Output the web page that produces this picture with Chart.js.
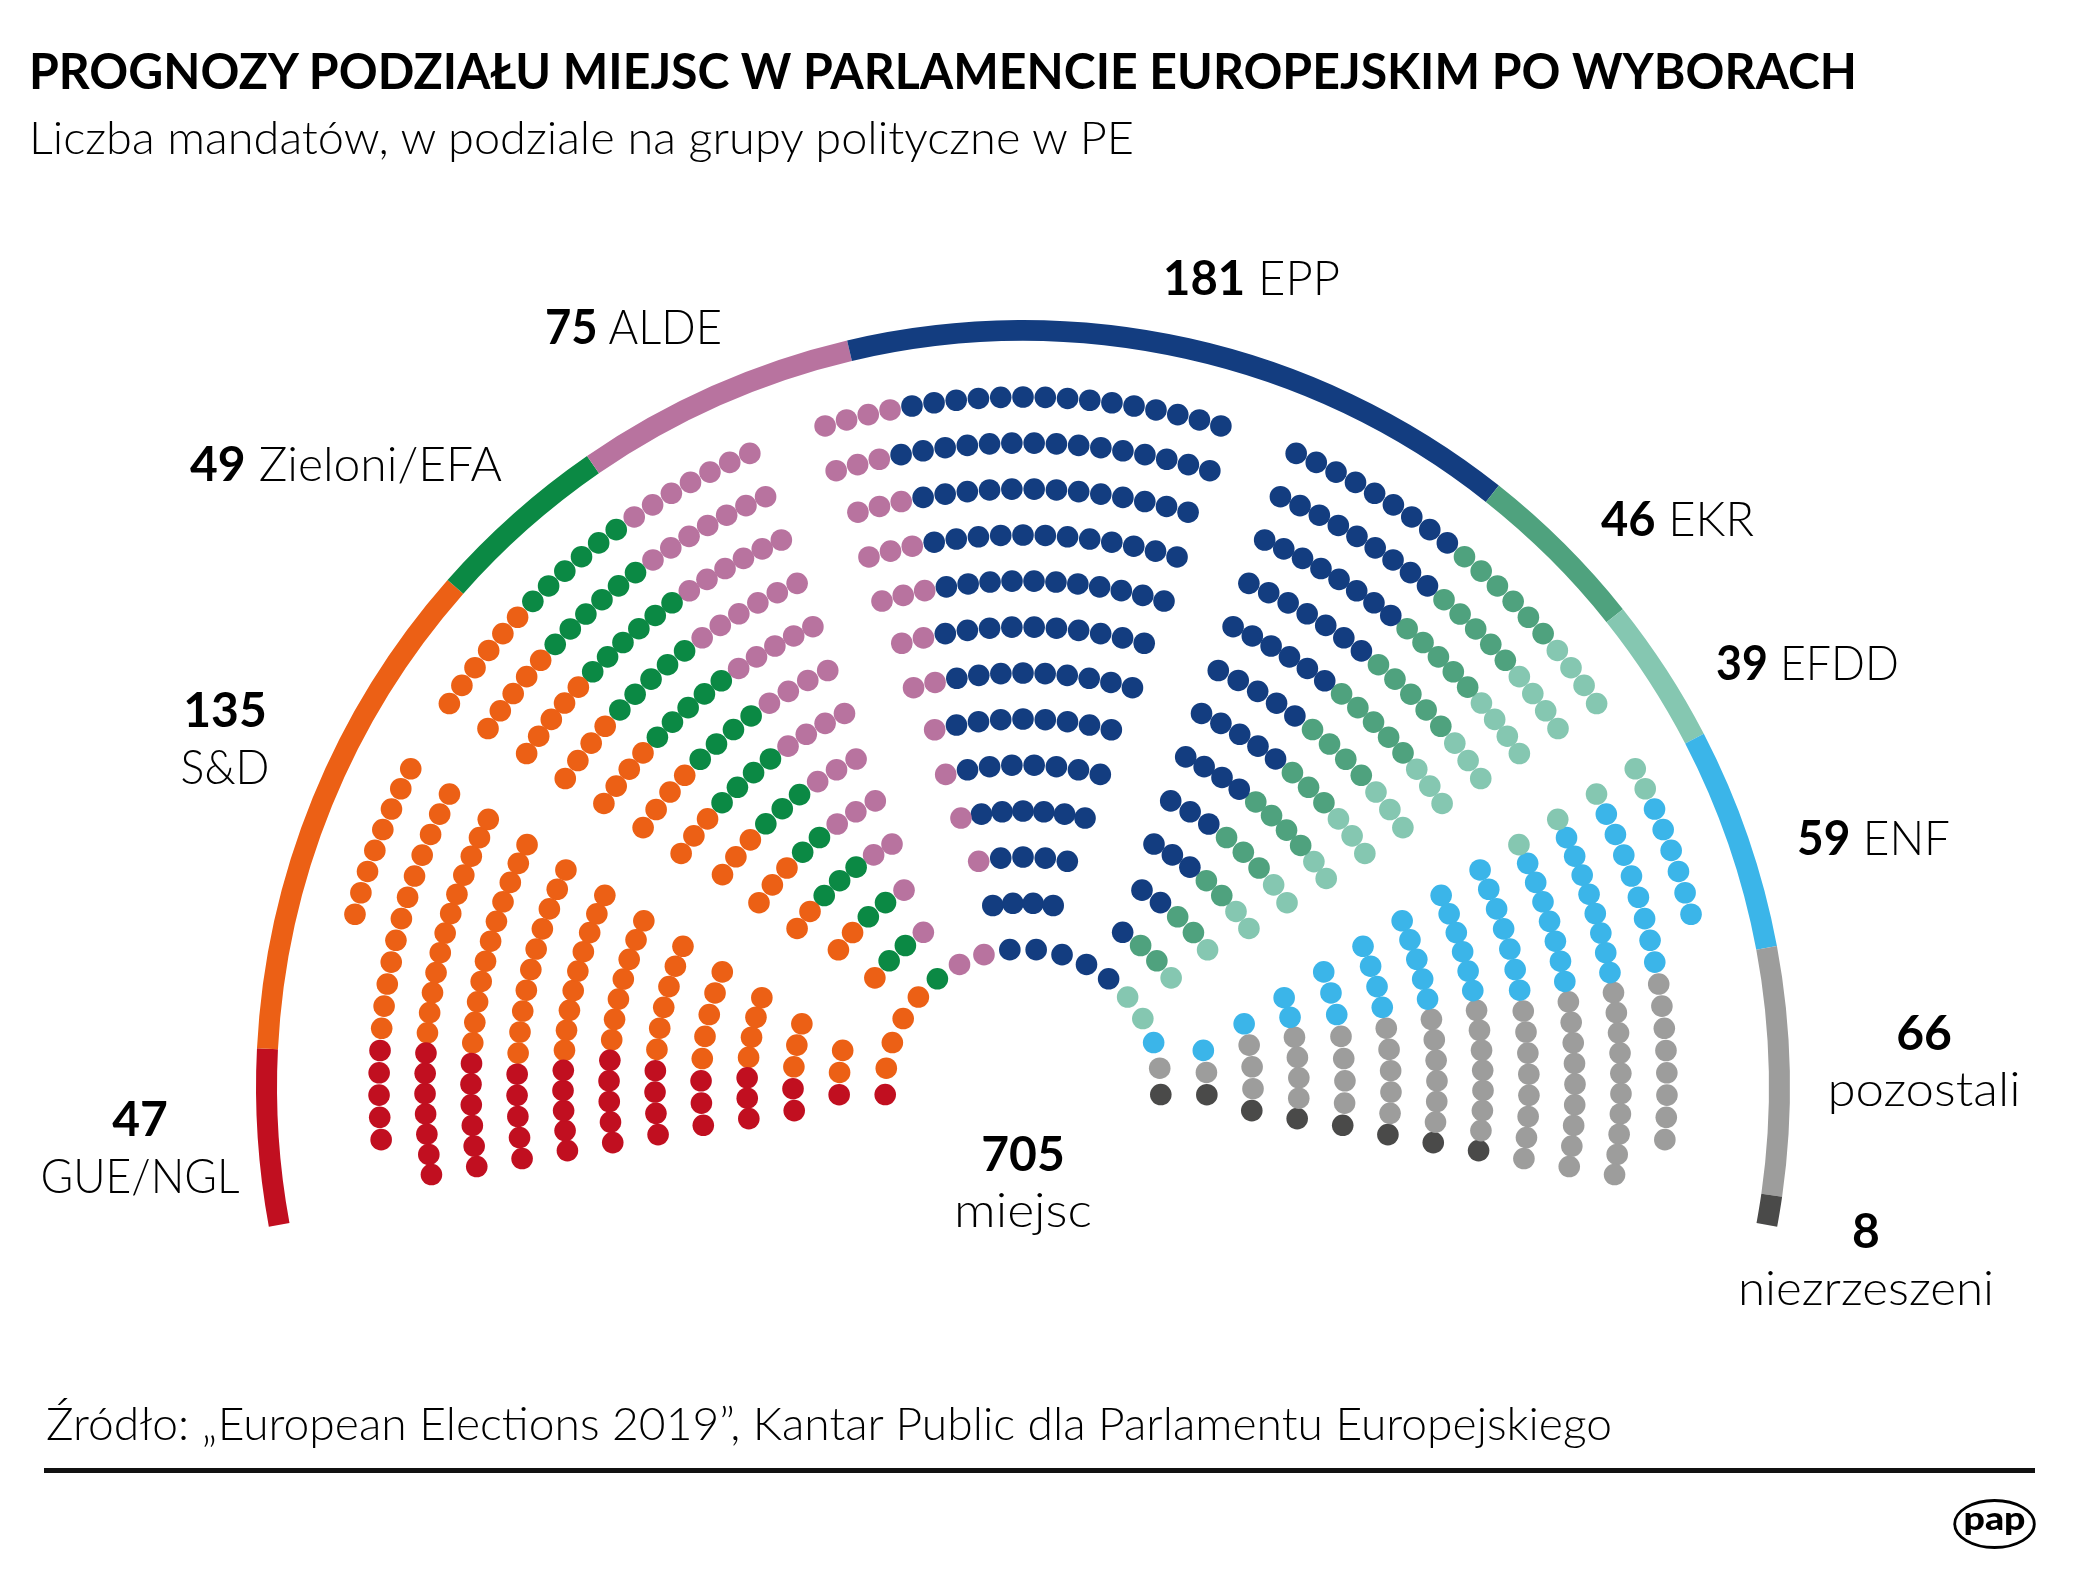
<!DOCTYPE html>
<html lang="pl">
<head>
<meta charset="utf-8">
<title>Prognozy podziału miejsc w Parlamencie Europejskim po wyborach</title>
<script src="https://cdn.jsdelivr.net/npm/chart.js@4.4.1/dist/chart.umd.min.js"></script>
<style>
  html, body { margin:0; padding:0; background:#ffffff; }
  #stage { position:relative; width:2084px; height:1570px; overflow:hidden; background:#ffffff; }
  #stage canvas, #stage svg { position:absolute; left:0; top:0; }
  svg text { font-family: Lato, "Noto Sans", "DejaVu Sans", sans-serif; fill:#000; }
</style>
</head>
<body>
<div id="stage">
  <canvas id="ring" width="2084" height="1570"></canvas>
  <canvas id="seats" width="2084" height="1570"></canvas>
  <svg id="txt" width="2084" height="1570" viewBox="0 0 2084 1570" xmlns="http://www.w3.org/2000/svg"></svg>
</div>
<script>
// ---------------- DATA ----------------
const groups = ['GUE/NGL', 'S&D', 'Zieloni/EFA', 'ALDE', 'EPP', 'EKR', 'EFDD', 'ENF', 'pozostali', 'niezrzeszeni'];
const seatCounts = [47, 135, 49, 75, 181, 46, 39, 59, 66, 8];
const groupColors = ['#c10f20', '#ec6015', '#0b8944', '#b8739f', '#133d80', '#4fa27e', '#85c7b1', '#3bb5e9', '#9d9d9c', '#4a4a49'];
const totalLabel = '705';
const totalWord = 'miejsc';
const titleText = 'PROGNOZY PODZIAŁU MIEJSC W PARLAMENCIE EUROPEJSKIM PO WYBORACH';
const subtitleText = 'Liczba mandatów, w podziale na grupy polityczne w PE';
const sourceText = 'Źródło: „European Elections 2019”, Kantar Public dla Parlamentu Europejskiego';

// ---------------- LAYOUT (geometry of the hemicycle) ----------------
const W = 2084, H = 1570;
const CX = 1023, CY = 1087;          // centre of the hemicycle (pixels)
const ROW0 = 138, ROW_STEP = 46;     // radius of innermost row, distance between rows
const ROWS = 12;                     // rows beyond the innermost one
const DOT_R = 10.8;
const MAX_GAP = 22.3;                // maximal distance between neighbouring seats in a row
const INNER_ROW_SEATS = 18;
// seats in every row (inner -> outer) of the five sectors (left -> right)
const sectorRowSeats = [
  [3, 5, 7, 8, 10, 12, 14, 15, 17, 19, 17, 8],
  [4, 5, 7, 8, 9, 11, 12, 14, 15, 17, 18, 19],
  [4, 5, 7, 8, 9, 11, 12, 14, 15, 16, 18, 19],
  [4, 5, 7, 8, 10, 11, 12, 14, 15, 17, 18, 19],
  [3, 5, 7, 8, 10, 12, 14, 15, 17, 19, 17, 8]
];
// sector edges: straight lines [direction in degrees, signed offset from centre]
const BOTTOM_LEFT = [190, 16.5], BOTTOM_RIGHT = [-10, -16.5];
const sectors = [
  { lo: [146.9, -67.8], hi: BOTTOM_LEFT, anchor: 'lo' },
  { lo: [110, -40], hi: [147.1, 10.4], anchor: 'mid' },
  { lo: [70, -33.7], hi: [110, 33.7], anchor: 'mid' },
  { lo: [32.9, -10.4], hi: [70, 40], anchor: 'mid' },
  { lo: BOTTOM_RIGHT, hi: [33.1, 67.8], anchor: 'hi' }
];
// outer ring
const RING_OUTER = 767, RING_INNER = 746, RING_SPAN = 201;

// ---------------- SEAT GEOMETRY ----------------
const DEG = Math.PI / 180;
const edgeAngle = (line, r) => line[0] - Math.asin(line[1] / r) / DEG;
const seatsAll = [];
function addSeat(k, r, t) { seatsAll.push({ k, t, x: r * Math.cos(t * DEG), y: r * Math.sin(t * DEG) }); }
(function () {
  const r = ROW0;
  const lo = edgeAngle(BOTTOM_RIGHT, r), hi = edgeAngle(BOTTOM_LEFT, r);
  for (let j = 0; j < INNER_ROW_SEATS; j++) addSeat(0, r, hi - j * (hi - lo) / (INNER_ROW_SEATS - 1));
  sectors.forEach((s, w) => {
    for (let k = 1; k <= ROWS; k++) {
      const rr = ROW0 + ROW_STEP * k;
      const n = sectorRowSeats[w][k - 1];
      const a = edgeAngle(s.lo, rr), b = edgeAngle(s.hi, rr);
      const step = n > 1 ? Math.min((b - a) / (n - 1), MAX_GAP / rr / DEG) : 0;
      for (let j = 0; j < n; j++) {
        let t;
        if (s.anchor === 'lo') t = a + j * step;
        else if (s.anchor === 'hi') t = b - j * step;
        else t = (a + b) / 2 + (j - (n - 1) / 2) * step;
        addSeat(k, rr, t);
      }
    }
  });
})();

// ---------------- ASSIGN SEATS TO GROUPS ----------------
const assigned = groups.map(() => []);
(function () {
  const pool = seatsAll.slice();
  const last = groups.length - 1;
  // the last group takes the end seat of each row, starting with the innermost row
  let need = seatCounts[last];
  for (let k = 0; k <= ROWS && need > 0; k++) {
    const row = pool.filter(s => s.k === k);
    const m = row.reduce((p, q) => (p.t < q.t ? p : q));
    assigned[last].push(m);
    pool.splice(pool.indexOf(m), 1);
    need--;
  }
  pool.sort((p, q) => q.t - p.t);   // clockwise from the left end
  let i = 0;
  for (let g = 0; g < last; g++) for (let c = 0; c < seatCounts[g]; c++) assigned[g].push(pool[i++]);
})();

// ---------------- CHARTS ----------------
Chart.defaults.font.family = 'Lato, "Noto Sans", sans-serif';

// outer ring: half doughnut
const ringExtra = (RING_SPAN - 180) / 2;               // degrees below horizontal at each end
const offY = (1 - Math.sin(ringExtra * DEG)) / 2 * RING_OUTER;
new Chart(document.getElementById('ring'), {
  type: 'doughnut',
  data: { labels: groups, datasets: [{ data: seatCounts, backgroundColor: groupColors, borderWidth: 0, hoverOffset: 0 }] },
  options: {
    responsive: false, animation: false, events: [],
    rotation: -90 - ringExtra, circumference: RING_SPAN,
    radius: RING_OUTER, cutout: (RING_INNER / RING_OUTER * 100) + '%',
    layout: { autoPadding: false, padding: { left: 0, top: 0, right: W - 2 * CX, bottom: H - 2 * (CY - offY) } },
    plugins: { legend: { display: false }, tooltip: { enabled: false } }
  }
});

// seats: scatter, one dataset per group
new Chart(document.getElementById('seats'), {
  type: 'scatter',
  data: {
    datasets: groups.map((g, i) => ({
      label: g,
      data: assigned[i].map(s => ({ x: s.x, y: s.y })),
      backgroundColor: groupColors[i],
      borderWidth: 0,
      pointRadius: DOT_R,
      pointHoverRadius: DOT_R
    }))
  },
  options: {
    responsive: false, animation: false, events: [],
    layout: { autoPadding: false, padding: 0 },
    scales: {
      x: { type: 'linear', min: -CX, max: W - CX, display: false },
      y: { type: 'linear', min: -(H - CY), max: CY, display: false }
    },
    plugins: { legend: { display: false }, tooltip: { enabled: false } }
  }
});

// ---------------- TEXT ----------------
const svg = document.getElementById('txt');
const NS = 'http://www.w3.org/2000/svg';
function txt(x, y, parts, opts) {
  const t = document.createElementNS(NS, 'text');
  t.setAttribute('x', x); t.setAttribute('y', y);
  t.setAttribute('font-size', opts.size);
  if (opts.anchor) t.setAttribute('text-anchor', opts.anchor);
  if (opts.len) { t.setAttribute('textLength', opts.len); t.setAttribute('lengthAdjust', 'spacingAndGlyphs'); }
  parts.forEach(p => {
    const s = document.createElementNS(NS, 'tspan');
    s.setAttribute('font-weight', p[1]);
    s.textContent = p[0];
    t.appendChild(s);
  });
  svg.appendChild(t);
  return t;
}
txt(29, 89, [[titleText, 700]], { size: 50, len: 1828 });
txt(29, 154, [[subtitleText, 300]], { size: 46, len: 1105 });
txt(46, 1440, [[sourceText, 300]], { size: 46, len: 1566 });

const LBL = 48;
// label placement: x, baseline(s), width of the text line
const labelPlaces = [
  { x: 140, y: 1136, y2: 1193, w: 199 },
  { x: 225, y: 727, y2: 784, w: 89 },
  { x: 190, y: 481, w: 312 },
  { x: 545, y: 344, w: 177 },
  { x: 1163, y: 295, w: 177 },
  { x: 1601, y: 536, w: 153 },
  { x: 1716, y: 680, w: 183 },
  { x: 1797, y: 855, w: 153 },
  { x: 1924, y: 1050, y2: 1106, w: 193 },
  { x: 1866, y: 1248, y2: 1305, w: 256 }
];
groups.forEach((g, i) => {
  const p = labelPlaces[i];
  if (p.y2) {
    txt(p.x, p.y, [[String(seatCounts[i]), 700]], { size: LBL, anchor: 'middle' });
    txt(p.x, p.y2, [[g, 300]], { size: LBL, anchor: 'middle', len: p.w });
  } else {
    txt(p.x, p.y, [[String(seatCounts[i]), 700], [' ' + g, 300]], { size: LBL, len: p.w });
  }
});
txt(CX, 1171, [[totalLabel, 700]], { size: LBL, anchor: 'middle' });
txt(CX, 1227, [[totalWord, 300]], { size: LBL, anchor: 'middle', len: 138 });

// bottom rule
const rule = document.createElementNS(NS, 'rect');
rule.setAttribute('x', 44); rule.setAttribute('y', 1468); rule.setAttribute('width', 1991); rule.setAttribute('height', 5);
rule.setAttribute('fill', '#111');
svg.appendChild(rule);
// pap logo
const ell = document.createElementNS(NS, 'ellipse');
ell.setAttribute('cx', 1994.5); ell.setAttribute('cy', 1524); ell.setAttribute('rx', 39.8); ell.setAttribute('ry', 23.5);
ell.setAttribute('fill', 'none'); ell.setAttribute('stroke', '#000'); ell.setAttribute('stroke-width', 2.8);
svg.appendChild(ell);
txt(1994.5, 1530, [['pap', 900]], { size: 32, anchor: 'middle', len: 62 });
</script>
</body>
</html>
